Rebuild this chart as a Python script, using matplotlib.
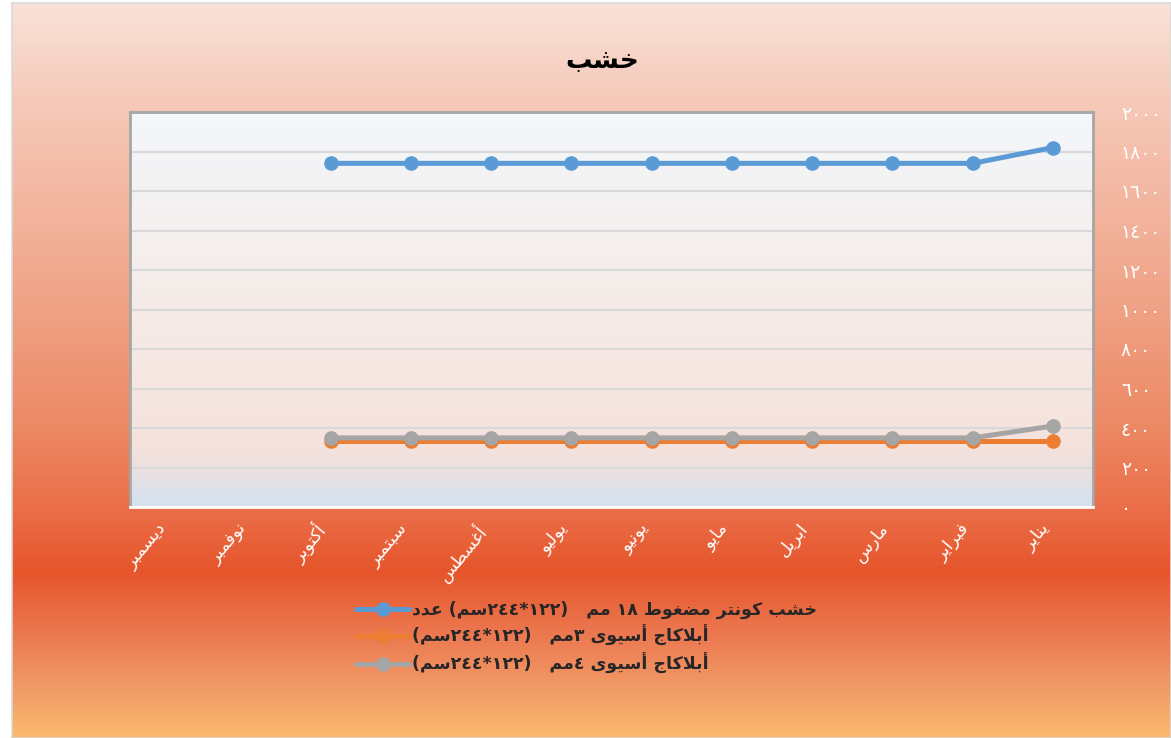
import matplotlib
matplotlib.use("Agg")
import matplotlib.pyplot as plt
import numpy as np
from matplotlib.colors import LinearSegmentedColormap

plt.rcParams['font.family'] = ['DejaVu Sans']

# data
months = ['يناير', 'فبراير', 'مارس', 'ابريل', 'مايو', 'يونيو',
          'يوليو', 'أغسطس', 'سبتمبر', 'أكتوبر', 'نوفمبر', 'ديسمبر']
series_names = ['خشب كونتر مضغوط ١٨ مم   (١٢٢*٢٤٤سم) عدد',
                'أبلاكاج أسيوى ٣مم   (١٢٢*٢٤٤سم)',
                'أبلاكاج أسيوى ٤مم   (١٢٢*٢٤٤سم)']
plywood_18 = [1820, 1740, 1740, 1740, 1740, 1740, 1740, 1740, 1740, 1740, np.nan, np.nan]
asian_3mm = [335, 335, 335, 335, 335, 335, 335, 335, 335, 335, np.nan, np.nan]
asian_4mm = [410, 350, 350, 350, 350, 350, 350, 350, 350, 350, np.nan, np.nan]
series_colors = ['#5b9bd5', '#ed7d31', '#a5a5a5']
y_ticks = list(range(0, 2001, 200))
title = 'خشب'

# small arabic shaper: letter -> (isolated presentation form, joins on both sides)
AR_FORMS = {
    'ا': (0xFE8D, False), 'أ': (0xFE83, False), 'د': (0xFEA9, False),
    'ر': (0xFEAD, False), 'و': (0xFEED, False), 'ى': (0xFEEF, False),
    'ب': (0xFE8F, True), 'ت': (0xFE95, True), 'ج': (0xFE9D, True),
    'خ': (0xFEA5, True), 'س': (0xFEB1, True), 'ش': (0xFEB5, True),
    'ض': (0xFEBD, True), 'ط': (0xFEC1, True), 'ع': (0xFEC9, True),
    'غ': (0xFECD, True), 'ف': (0xFED1, True), 'ك': (0xFED9, True),
    'ل': (0xFEDD, True), 'م': (0xFEE1, True), 'ن': (0xFEE5, True),
    'ي': (0xFEF1, True),
}
DIGITS = set('0123456789٠١٢٣٤٥٦٧٨٩')


def shape(text):
    out = []
    i = 0
    while i < len(text):
        c = text[i]
        if c not in AR_FORMS:
            out.append(c)
            i += 1
            continue
        prev_joins = i > 0 and text[i - 1] in AR_FORMS and AR_FORMS[text[i - 1]][1]
        if c == 'ل' and i + 1 < len(text) and text[i + 1] in ('ا', 'أ'):
            base = 0xFEFB if text[i + 1] == 'ا' else 0xFEF7
            out.append(chr(base + (1 if prev_joins else 0)))
            i += 2
            continue
        code, dual = AR_FORMS[c]
        next_ar = i + 1 < len(text) and text[i + 1] in AR_FORMS
        if dual and next_ar:
            form = 3 if prev_joins else 2
        else:
            form = 1 if prev_joins else 0
        out.append(chr(code + form))
        i += 1
    # visual order: reverse, keep digit runs left-to-right, mirror brackets
    rev = ''.join(out)[::-1]
    res, run = [], ''
    for ch in rev:
        if ch in DIGITS:
            run += ch
        else:
            res.append(run[::-1])
            run = ''
            res.append({'(': ')', ')': '('}.get(ch, ch))
    res.append(run[::-1])
    return ''.join(res)


def ar_num(v):
    return str(v).translate(str.maketrans('0123456789', '٠١٢٣٤٥٦٧٨٩'))


W, H = 1171, 738
fig = plt.figure(figsize=(W / 100, H / 100), dpi=100)
fig.patch.set_facecolor('white')

# chart background gradient
bg = fig.add_axes([12 / W, 0, 1 - 12 / W, 1 - 3 / H], zorder=-10)
bg_cmap = LinearSegmentedColormap.from_list('bg', [
    (0.0, '#f9e2d9'), (0.12, '#f6cbbb'), (0.40, '#f0a488'), (0.57, '#ec8a66'),
    (0.70, '#ea6b45'), (0.775, '#e6552b'), (0.86, '#ec7850'), (0.94, '#f29d68'),
    (1.0, '#fbba6e')])
bg.imshow(np.linspace(0, 1, 256).reshape(-1, 1), cmap=bg_cmap, aspect='auto',
          extent=[0, 1, 0, 1], origin='upper')
bg.set_xlim(0, 1)
bg.set_ylim(0, 1)
bg.set_xticks([])
bg.set_yticks([])
for s in bg.spines.values():
    s.set_color('#d9d9d9')
    s.set_linewidth(1.2)

ax = fig.add_axes([130 / W, 1 - 507 / H, 963 / W, 395 / H])
plot_cmap = LinearSegmentedColormap.from_list('pl', [
    (0.0, '#f3f7fb'), (0.5, '#f5ebe7'), (0.85, '#f6e2dc'), (0.92, '#e8e0e3'),
    (1.0, '#d4e2ef')])
ax.imshow(np.linspace(0, 1, 256).reshape(-1, 1), cmap=plot_cmap, aspect='auto',
          extent=[0, 1, 0, 1], origin='upper', transform=ax.transAxes, zorder=0)

x = np.arange(len(months))
for vals, name, col in zip([plywood_18, asian_3mm, asian_4mm], series_names, series_colors):
    ax.plot(x, vals, color=col, lw=3.6, marker='o', ms=9.5, label=shape(name),
            zorder=3, solid_capstyle='round')

ax.set_xlim(len(months) - 0.5, -0.5)
ax.set_ylim(0, 2000)
ax.set_yticks(y_ticks)
ax.yaxis.tick_right()
ax.set_yticklabels([ar_num(v) for v in y_ticks], color='white', fontsize=13.5, ha='left')
ax.tick_params(axis='y', length=0, pad=20)
ax.grid(axis='y', color='#d9d9d9', lw=1.5, zorder=1)
ax.set_axisbelow(True)

ax.set_xticks(x)
ax.set_xticklabels([shape(m) for m in months], rotation=50, ha='right', va='top',
                   color='white', fontsize=12.5)
ax.tick_params(axis='x', length=0, pad=9)

for side in ['left', 'top', 'right']:
    ax.spines[side].set_color('#a6a6a6')
    ax.spines[side].set_linewidth(2)
ax.spines['bottom'].set_color('white')
ax.spines['bottom'].set_linewidth(2)

fig.text(602 / W, 1 - 61 / H, shape(title), ha='center', va='center',
         fontsize=19, fontweight='bold', color='black')

leg = fig.legend(loc='upper left', bbox_to_anchor=(340 / W, 1 - 585 / H),
                 frameon=False, prop={'weight': 'bold', 'size': 12.5},
                 handlelength=3.1, handletextpad=0.15, labelspacing=0.38)
for t in leg.get_texts():
    t.set_color('#262626')

fig.savefig('out.png', dpi=100)
